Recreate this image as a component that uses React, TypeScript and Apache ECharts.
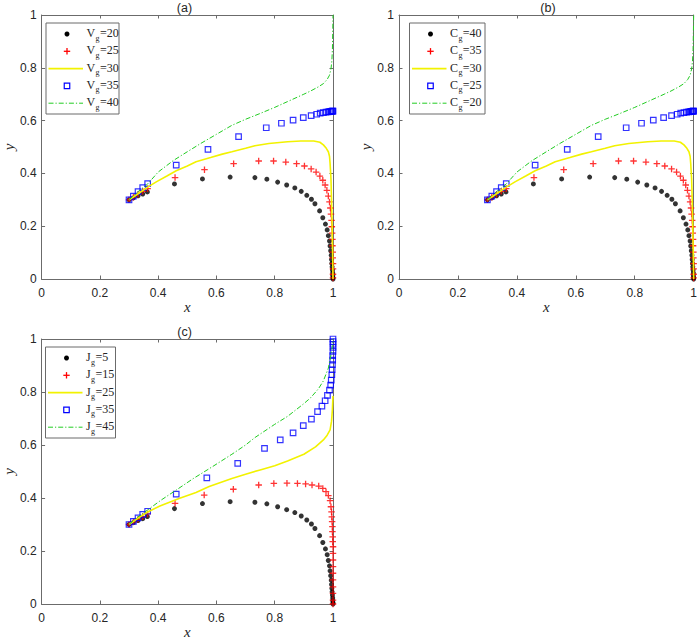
import React, { useEffect, useRef } from "react";
import * as echarts from "echarts";

// ---------- data ----------
const ticks = [0, 0.2, 0.4, 0.6, 0.8, 1];

// (a) and (b): same curves
const blackX = [0.300, 0.315, 0.331, 0.347, 0.363, 0.456, 0.552, 0.647, 0.732, 0.773, 0.810, 0.841, 0.869, 0.891, 0.910, 0.926, 0.938, 0.954, 0.965, 0.974, 0.980, 0.984, 0.988, 0.990, 0.992, 0.994, 0.995, 0.996, 0.997, 0.998, 0.999, 0.999, 1.0, 1.0];
const blackY = [0.300, 0.307, 0.315, 0.322, 0.330, 0.360, 0.379, 0.386, 0.384, 0.378, 0.367, 0.356, 0.345, 0.332, 0.317, 0.302, 0.285, 0.258, 0.232, 0.208, 0.186, 0.164, 0.144, 0.125, 0.107, 0.090, 0.074, 0.059, 0.046, 0.034, 0.023, 0.013, 0.005, 0.0];

const redX = [0.300, 0.315, 0.331, 0.347, 0.364, 0.458, 0.559, 0.659, 0.745, 0.796, 0.838, 0.875, 0.902, 0.925, 0.942, 0.955, 0.965, 0.973, 0.979, 0.984, 0.988, 0.991, 0.993, 0.995, 0.996, 0.997, 0.998, 0.998, 0.999, 0.999, 1.0, 1.0, 1.0, 1.0];
const redY = [0.300, 0.310, 0.321, 0.332, 0.342, 0.384, 0.414, 0.437, 0.447, 0.447, 0.443, 0.437, 0.428, 0.417, 0.405, 0.390, 0.374, 0.356, 0.336, 0.314, 0.292, 0.269, 0.246, 0.222, 0.198, 0.174, 0.150, 0.126, 0.102, 0.080, 0.058, 0.038, 0.018, 0.004];

const yelX = [0.300, 0.330, 0.364, 0.395, 0.430, 0.462, 0.500, 0.530, 0.580, 0.620, 0.653, 0.700, 0.732, 0.780, 0.844, 0.890, 0.934, 0.955, 0.967, 0.977, 0.984, 0.988, 0.990, 0.993, 0.995, 0.997, 0.999, 1.0];
const yelY = [0.300, 0.322, 0.348, 0.369, 0.390, 0.410, 0.428, 0.444, 0.460, 0.473, 0.482, 0.495, 0.505, 0.513, 0.520, 0.523, 0.523, 0.518, 0.508, 0.495, 0.482, 0.465, 0.438, 0.380, 0.300, 0.200, 0.080, 0.0];

const blueX = [0.300, 0.315, 0.331, 0.347, 0.364, 0.462, 0.571, 0.676, 0.771, 0.823, 0.863, 0.898, 0.925, 0.944, 0.956, 0.967, 0.976, 0.983, 0.988, 0.992, 0.995, 0.997, 0.999, 1.0];
const blueY = [0.300, 0.314, 0.331, 0.346, 0.361, 0.431, 0.491, 0.539, 0.573, 0.590, 0.602, 0.611, 0.619, 0.624, 0.628, 0.630, 0.632, 0.633, 0.634, 0.635, 0.635, 0.636, 0.636, 0.636];

const grnX = [0.300, 0.330, 0.364, 0.400, 0.451, 0.500, 0.547, 0.600, 0.653, 0.700, 0.750, 0.800, 0.844, 0.900, 0.923, 0.950, 0.967, 0.980, 0.988, 0.993, 0.996, 0.998, 0.999, 1.0];
const grnY = [0.300, 0.330, 0.360, 0.405, 0.448, 0.482, 0.514, 0.548, 0.582, 0.605, 0.627, 0.650, 0.672, 0.700, 0.712, 0.728, 0.740, 0.756, 0.772, 0.795, 0.825, 0.870, 0.930, 1.0];

// (c)
const redCX = [0.300, 0.315, 0.331, 0.347, 0.364, 0.458, 0.558, 0.658, 0.745, 0.797, 0.842, 0.878, 0.906, 0.928, 0.951, 0.965, 0.976, 0.984, 0.990, 0.993, 0.995, 0.996, 0.997, 0.998, 0.998, 0.999, 0.999, 1.0, 1.0, 1.0, 1.0, 1.0, 1.0, 1.0, 1.0, 1.0, 1.0];
const redCY = [0.300, 0.310, 0.320, 0.330, 0.340, 0.380, 0.411, 0.433, 0.449, 0.455, 0.456, 0.455, 0.453, 0.449, 0.445, 0.436, 0.424, 0.409, 0.390, 0.367, 0.348, 0.329, 0.311, 0.292, 0.273, 0.253, 0.235, 0.216, 0.191, 0.166, 0.141, 0.116, 0.091, 0.065, 0.040, 0.015, 0.0];

const yelCX = [0.300, 0.330, 0.364, 0.406, 0.474, 0.530, 0.575, 0.653, 0.700, 0.750, 0.800, 0.844, 0.900, 0.940, 0.967, 0.980, 0.990, 0.995, 0.998, 1.0];
const yelCY = [0.300, 0.323, 0.347, 0.370, 0.399, 0.421, 0.443, 0.474, 0.490, 0.506, 0.522, 0.540, 0.565, 0.593, 0.619, 0.637, 0.657, 0.690, 0.735, 0.785];

const blueCX = [0.300, 0.315, 0.331, 0.347, 0.364, 0.462, 0.567, 0.673, 0.765, 0.819, 0.863, 0.898, 0.926, 0.947, 0.962, 0.973, 0.981, 0.988, 0.992, 0.994, 0.996, 0.997, 0.998, 0.999, 0.999, 1.0, 1.0, 1.0, 1.0, 1.0];
const blueCY = [0.300, 0.312, 0.325, 0.338, 0.350, 0.415, 0.476, 0.531, 0.587, 0.619, 0.646, 0.673, 0.698, 0.726, 0.747, 0.767, 0.787, 0.807, 0.826, 0.845, 0.865, 0.884, 0.903, 0.920, 0.937, 0.953, 0.968, 0.980, 0.990, 1.0];

const grnCX = [0.300, 0.330, 0.364, 0.410, 0.462, 0.520, 0.586, 0.653, 0.700, 0.732, 0.800, 0.844, 0.900, 0.923, 0.950, 0.967, 0.984, 0.993, 0.998, 1.0];
const grnCY = [0.300, 0.328, 0.355, 0.392, 0.430, 0.473, 0.518, 0.565, 0.600, 0.628, 0.678, 0.708, 0.756, 0.778, 0.812, 0.842, 0.890, 0.940, 0.975, 1.0];

const titles = ["(a)", "(b)", "(c)"];
const legendSymbols = ["V", "C", "J"];
const legendValsA = [20, 25, 30, 35, 40];
const legendValsB = [40, 35, 30, 25, 20];
const legendValsC = [5, 15, 25, 35, 45];

// ---------- styling ----------
const AX = "#6b6b6b";
const TXT = "#262626";
const RED = "#ff0000";
const YEL = "#f2f200";
const BLUE = "#0000ff";
const GRN = "#22cc22";
const DASHDOT = [5, 2, 1.2, 2];
const PLUS = "path://M4,0H6V4H10V6H6V10H4V6H0V4H4Z";

const grids = [
  { left: 36, top: 15, width: 297, height: 264 },
  { left: 399, top: 15, width: 298, height: 264 },
  { left: 36, top: 339, width: 297, height: 265 },
];

const legendBoxes = [
  { x: 46, y: 23, w: 73, h: 91 },
  { x: 409.5, y: 23, w: 75.5, h: 91 },
  { x: 45.5, y: 347, w: 70, h: 91 },
];

const zip = (xs: number[], ys: number[]) => xs.map((x, i) => [x, ys[i]]);

function measure(text: string, font: string) {
  try {
    const c = document.createElement("canvas").getContext("2d");
    if (c) {
      c.font = font;
      return c.measureText(text).width;
    }
  } catch (e) {}
  return text.length * 6.5;
}

function buildSeries(gi: number, names: string[], d: number[][][]) {
  const base = { xAxisIndex: gi, yAxisIndex: gi, silent: true, clip: false };
  return [
    { ...base, type: "scatter", name: names[0], data: d[0], symbol: "circle", symbolSize: 5, itemStyle: { color: "#000" } },
    { ...base, type: "scatter", name: names[1], data: d[1], symbol: PLUS, symbolSize: 6.5, itemStyle: { color: RED } },
    { ...base, type: "line", name: names[2], data: d[2], showSymbol: false, symbol: "none", lineStyle: { color: YEL, width: 1.6 } },
    { ...base, type: "scatter", name: names[3], data: d[3], symbol: "rect", symbolSize: 5.5, itemStyle: { color: "rgba(0,0,0,0)", borderColor: BLUE, borderWidth: 1.2 } },
    { ...base, type: "line", name: names[4], data: d[4], showSymbol: false, symbol: "none", lineStyle: { color: GRN, width: 1, type: DASHDOT } },
  ];
}

function buildLegend(gi: number, sym: string, vals: number[]) {
  const b = legendBoxes[gi];
  const children: any[] = [
    { type: "rect", shape: { x: b.x, y: b.y, width: b.w, height: b.h }, style: { fill: "#fff", stroke: AX, lineWidth: 1 } },
  ];
  const fontM = '12px "Liberation Serif"';
  const fontS = '8px "Liberation Serif"';
  const wSym = measure(sym, fontM);
  const wSub = measure("g", fontS);
  vals.forEach((v, i) => {
    const ry = b.y + 11 + i * 17.3;
    const cx = b.x + 21;
    if (i === 0) children.push({ type: "circle", shape: { cx, cy: ry, r: 2.5 }, style: { fill: "#000" } });
    if (i === 1) {
      children.push({ type: "line", shape: { x1: cx - 3.2, y1: ry, x2: cx + 3.2, y2: ry }, style: { stroke: RED, lineWidth: 1.3 } });
      children.push({ type: "line", shape: { x1: cx, y1: ry - 3.2, x2: cx, y2: ry + 3.2 }, style: { stroke: RED, lineWidth: 1.3 } });
    }
    if (i === 2) children.push({ type: "line", shape: { x1: b.x + 2.5, y1: ry, x2: b.x + 37, y2: ry }, style: { stroke: YEL, lineWidth: 1.6 } });
    if (i === 3) children.push({ type: "rect", shape: { x: cx - 2.75, y: ry - 2.75, width: 5.5, height: 5.5 }, style: { fill: "none", stroke: BLUE, lineWidth: 1.2 } });
    if (i === 4) children.push({ type: "line", shape: { x1: b.x + 2.5, y1: ry, x2: b.x + 37, y2: ry }, style: { stroke: GRN, lineWidth: 1, lineDash: DASHDOT } });
    const tx = b.x + 40.5;
    children.push({ type: "text", x: tx, y: ry - 1, style: { text: sym, font: fontM, fill: TXT, textAlign: "left", textVerticalAlign: "middle" } });
    children.push({ type: "text", x: tx + wSym + 0.4, y: ry + 4, style: { text: "g", font: fontS, fill: TXT, textAlign: "left", textVerticalAlign: "middle" } });
    children.push({ type: "text", x: tx + wSym + wSub + 0.8, y: ry - 1, style: { text: "=" + v, font: fontM, fill: TXT, textAlign: "left", textVerticalAlign: "middle" } });
  });
  return { type: "group", z: 100, children };
}

export default function App() {
  const ref = useRef<HTMLDivElement>(null);
  useEffect(() => {
    if (!ref.current) return;
    const chart = echarts.init(ref.current, null, { renderer: "svg" });

    const tickMin = ticks[0];
    const tickMax = ticks[ticks.length - 1];
    const step = ticks[1] - ticks[0];

    const axisCommon = {
      type: "value",
      min: tickMin,
      max: tickMax,
      interval: step,
      axisLine: { show: true, onZero: false, lineStyle: { color: AX, width: 1 } },
      axisTick: { show: true, inside: true, length: 3.5, lineStyle: { color: AX, width: 1 } },
      splitLine: { show: false },
    };
    const nameStyle = { fontFamily: "Liberation Serif", fontStyle: "italic", fontSize: 15, color: TXT };
    const labelStyle = { color: TXT, fontFamily: "Liberation Sans", fontSize: 12 };

    const xAxes: any[] = [];
    const yAxes: any[] = [];
    grids.forEach((_, gi) => {
      xAxes.push({ ...axisCommon, gridIndex: gi, position: "bottom", name: "x", nameLocation: "middle", nameGap: 17, nameTextStyle: nameStyle, axisLabel: { ...labelStyle, margin: 8 } });
      yAxes.push({ ...axisCommon, gridIndex: gi, position: "left", name: "y", nameLocation: "middle", nameGap: 18, nameRotate: 90, nameTextStyle: nameStyle, axisLabel: { ...labelStyle, margin: 5 } });
    });
    grids.forEach((_, gi) => {
      xAxes.push({ ...axisCommon, gridIndex: gi, position: "top", axisLabel: { show: false } });
      yAxes.push({ ...axisCommon, gridIndex: gi, position: "right", axisLabel: { show: false } });
    });

    const dataAB = [zip(blackX, blackY), zip(redX, redY), zip(yelX, yelY), zip(blueX, blueY), zip(grnX, grnY)];
    const dataC = [zip(blackX, blackY), zip(redCX, redCY), zip(yelCX, yelCY), zip(blueCX, blueCY), zip(grnCX, grnCY)];
    const namesA = legendValsA.map((v) => legendSymbols[0] + "_g=" + v);
    const namesB = legendValsB.map((v) => legendSymbols[1] + "_g=" + v);
    const namesC = legendValsC.map((v) => legendSymbols[2] + "_g=" + v);

    const series = [
      ...buildSeries(0, namesA, dataAB),
      ...buildSeries(1, namesB, dataAB),
      ...buildSeries(2, namesC, dataC),
    ];

    const titleGraphics = grids.map((g, gi) => ({
      type: "text",
      x: g.left + g.width / 2,
      y: g.top - 14,
      style: { text: titles[gi], font: '12.5px "Liberation Sans"', fill: TXT, textAlign: "center", textVerticalAlign: "top" },
    }));

    chart.setOption({
      animation: false,
      backgroundColor: "#fff",
      grid: grids.map((g) => ({ ...g, containLabel: false })),
      xAxis: xAxes,
      yAxis: yAxes,
      series,
      graphic: [
        ...titleGraphics,
        buildLegend(0, legendSymbols[0], legendValsA),
        buildLegend(1, legendSymbols[1], legendValsB),
        buildLegend(2, legendSymbols[2], legendValsC),
      ],
    });
    return () => chart.dispose();
  }, []);
  return <div ref={ref} style={{ position: "fixed", left: 0, top: 0, width: 700, height: 641 }} />;
}
